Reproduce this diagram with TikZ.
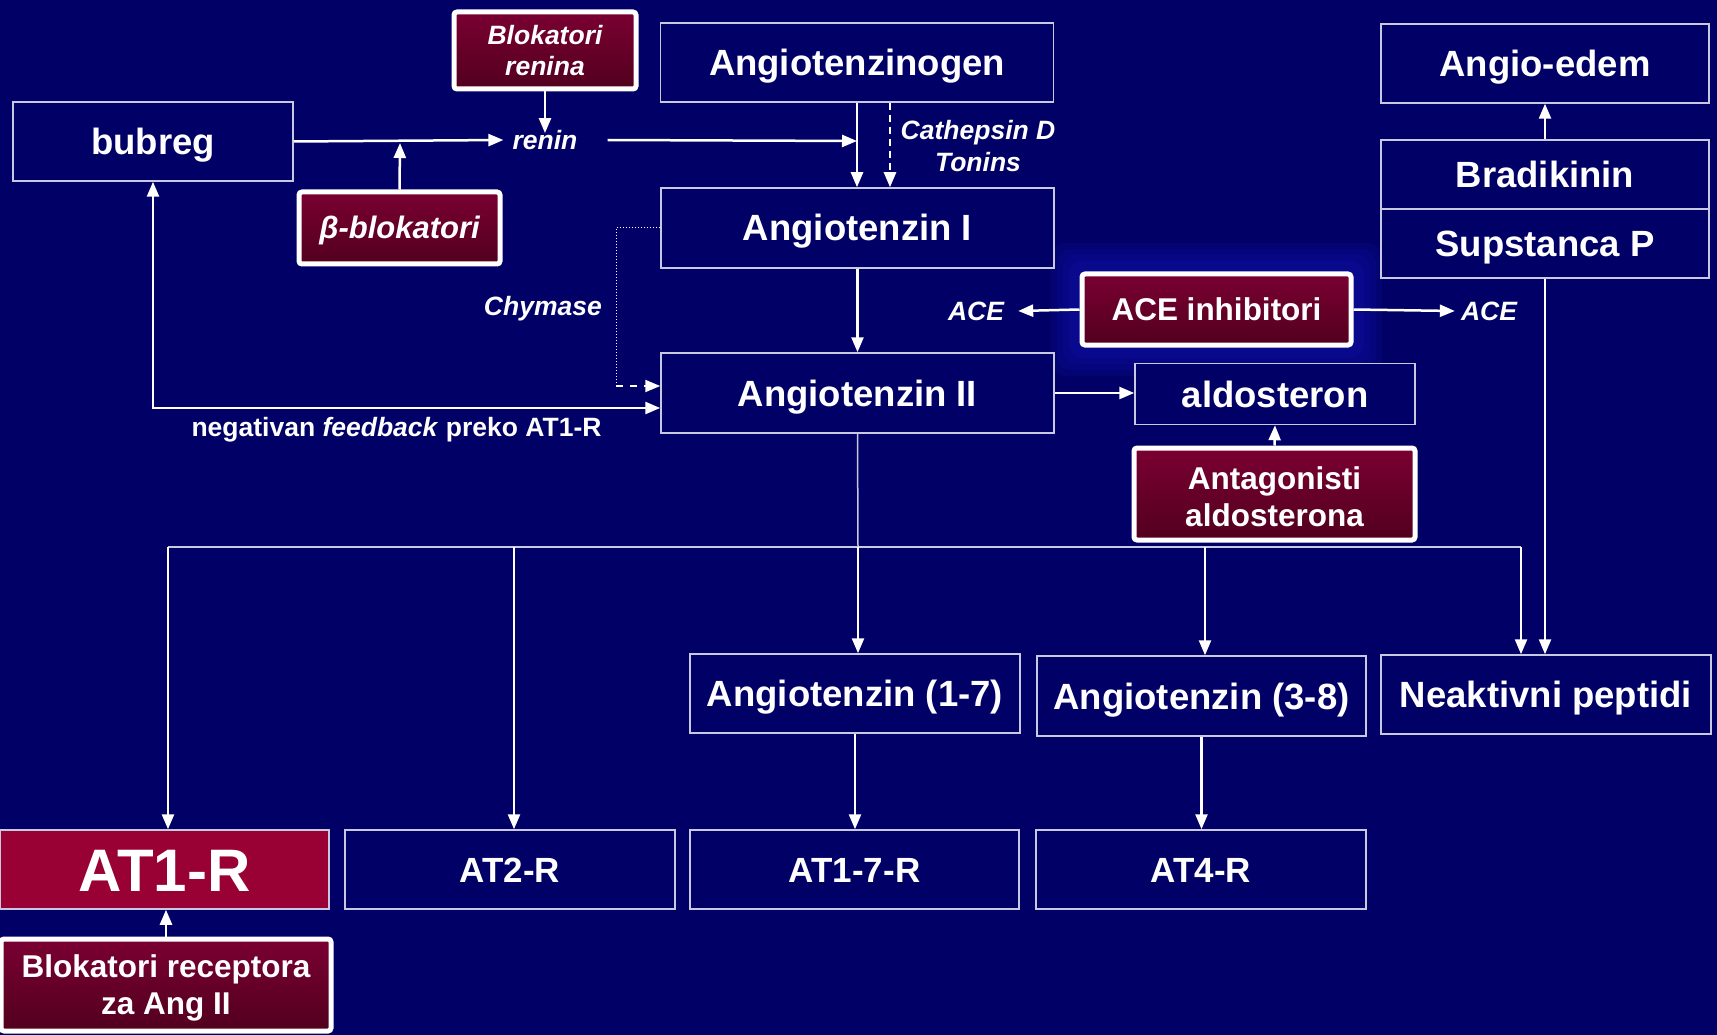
\documentclass[tikz,border=0pt]{standalone}
\usepackage{fontspec}
\setmainfont{Liberation Sans}
\usetikzlibrary{arrows.meta}
\definecolor{bg}{HTML}{000066}
\definecolor{boxline}{HTML}{C8C8E0}
\definecolor{redtop}{HTML}{7A0032}
\definecolor{redbot}{HTML}{52001E}
\definecolor{atred}{HTML}{990033}
\definecolor{glow}{HTML}{1818C8}
\begin{document}
\begin{tikzpicture}[x=1pt,y=-1pt,
  box/.style={draw=boxline, line width=1.5pt, fill=bg, inner sep=0pt, text=white,
    minimum height=79pt, text height=26pt, text depth=0pt,
    font=\fontsize{36.5}{40}\selectfont\bfseries},
  atbox/.style={box, text height=25pt, font=\fontsize{35}{40}\selectfont\bfseries},
  drug/.style={draw=white, line width=5pt, rounded corners=3pt, top color=redtop, bottom color=redbot,
    text=white, inner sep=0pt, align=center, font=\fontsize{31.5}{37}\selectfont\bfseries},
  lab/.style={text=white, inner sep=0pt, align=center, font=\fontsize{26.5}{32}\selectfont\bfseries\itshape},
  arr/.style={draw=white, line width=2.5pt, -{Triangle[length=15pt,width=12pt]}},
  darr/.style={draw=white, line width=2.5pt, {Triangle[length=15pt,width=12pt]}-{Triangle[length=15pt,width=12pt]}},
  thinl/.style={draw=boxline, line width=1.5pt},
  chy/.style={draw=white, line width=1pt, dotted},
]
\useasboundingbox (0,0) rectangle (1717,1035);
\fill[bg] (0,0) rectangle (1717,1035);

% glow behind ACE inhibitori
\foreach \g in {28,22,16,10}{
  \fill[glow, opacity=0.13, rounded corners=14pt] (1079-\g,271-\g) rectangle (1354+\g,348+\g);
}

% main boxes
\node[box, minimum width=280pt] (bubreg) at (153,141.5) {bubreg};
\node[box, minimum width=393pt] (ang0) at (857,62.5) {Angiotenzinogen};
\node[box, minimum width=393pt, minimum height=80pt] (ang1) at (857.5,228) {Angiotenzin I};
\node[box, minimum width=393pt, minimum height=80pt] (ang2) at (857.5,393) {Angiotenzin II};
\node[box, minimum width=328pt] (edem) at (1545,63.5) {Angio-edem};
\node[box, minimum width=328pt, minimum height=69pt] (brad) at (1545,174.5) {Bradikinin};
\node[box, minimum width=328pt, minimum height=69pt] (sups) at (1545,243.5) {Supstanca P};
\node[box, minimum width=280pt, minimum height=61pt] (aldo) at (1275,394) {aldosteron};
\node[box, minimum width=330pt] (a17) at (855,693.5) {Angiotenzin (1-7)};
\node[box, minimum width=329pt, minimum height=80pt] (a38) at (1201.5,696) {Angiotenzin (3-8)};
\node[box, minimum width=330pt] (neak) at (1546,694.5) {Neaktivni peptidi};
\node[box, fill=atred, minimum width=329pt, text height=43pt, font=\fontsize{60}{64}\selectfont\bfseries] (at1) at (164.5,869.5) {AT1-R};
\node[atbox, minimum width=330pt] (at2) at (510,869.5) {AT2-R};
\node[atbox, minimum width=329pt] (at17) at (854.5,869.5) {AT1-7-R};
\node[atbox, minimum width=330pt] (at4) at (1201,869.5) {AT4-R};

% drug boxes
\node[drug, minimum width=182pt, minimum height=77pt, font=\fontsize{26.5}{31}\selectfont\bfseries\itshape] (blokren) at (545,50.5) {Blokatori\\renina};
\node[drug, minimum width=201pt, minimum height=72pt, text height=22pt, text depth=0pt, font=\fontsize{31}{36}\selectfont\bfseries\itshape] (bblok) at (399.5,228) {β-blokatori};
\node[drug, minimum width=269pt, minimum height=71pt, text height=22.5pt, text depth=0pt] (acei) at (1216.5,309.5) {ACE inhibitori};
\node[drug, minimum width=281pt, minimum height=92pt] (antag) at (1274.5,494) {\rule{0pt}{28pt}Antagonisti\\aldosterona};
\node[drug, minimum width=330pt, minimum height=92pt] (blokrec) at (166,985) {\rule{0pt}{28pt}Blokatori receptora\\za Ang II};

% labels
\node[lab] (renin) at (545,140) {renin};
\node[lab] (cath) at (978,146) {Cathepsin D\\Tonins};
\node[lab, anchor=east] (chym) at (602,309) {Chymase};
\node[lab] (acel) at (976,311) {ACE};
\node[lab] (acer) at (1489,311) {ACE};
\node[lab, font=\fontsize{26.5}{32}\selectfont\bfseries] (fbl) at (396.5,430) {negativan \textit{feedback} preko AT1-R};

% coordinates
\coordinate (rj) at (857,141);
\coordinate (bj) at (400,143);
\coordinate (fb) at (153,408);
\coordinate (c1) at (616,228);
\coordinate (c2) at (616,386);
\coordinate (bl) at (168,547);
\coordinate (b2) at (514,547);
\coordinate (br) at (858,547);
\coordinate (b4) at (1205,547);
\coordinate (brr) at (1521,547);

% top connectors
\draw[arr] (blokren.south) -- ([yshift=-3pt]renin.north);
\draw[arr] (bubreg.east) -- ([xshift=-9pt]renin.west);
\draw[arr] ([xshift=30pt]renin.east) -- (rj);
\draw[arr] (bblok.north) -- (bj);
\draw[arr] (ang0.south) -- (ang0.south |- ang1.north);
\draw[arr, dash pattern=on 7pt off 5pt] ([xshift=33pt]ang0.south) -- ([xshift=33pt]ang0.south |- ang1.north);
\draw[arr] (ang1.south) -- (ang1.south |- ang2.north);
\draw[darr] (bubreg.south) -- (fb) -- (fb -| ang2.west);
\draw[chy] (ang1.west |- c1) -- (c1) -- (c2);
\draw[arr, line width=2pt, dash pattern=on 7pt off 7pt] (c2) -- (c2 -| ang2.west);
\draw[arr] (acei.west) -- ([xshift=14pt]acel.east);
\draw[arr] (acei.east) -- ([xshift=-6pt]acer.west);
\draw[arr] (ang2.east) -- (ang2.east -| aldo.west);
\draw[arr] (antag.north) -- (aldo.south);
\draw[arr] (brad.north) -- (edem.south);
\draw[arr] (sups.south) -- (sups.south |- neak.north);

% branching
\draw[thinl] (ang2.south) -- (br);
\draw[thinl] (bl) -- (brr);
\draw[arr] (bl) -- (bl |- at1.north);
\draw[arr] (b2) -- (b2 |- at2.north);
\draw[arr] (br) -- (br |- a17.north);
\draw[arr] (b4) -- (b4 |- a38.north);
\draw[arr] (brr) -- (brr |- neak.north);
\draw[arr] (a17.south) -- (a17.south |- at17.north);
\draw[arr] (a38.south) -- (a38.south |- at4.north);
\draw[arr] (blokrec.north) -- (blokrec.north |- at1.south);
\end{tikzpicture}
\end{document}
